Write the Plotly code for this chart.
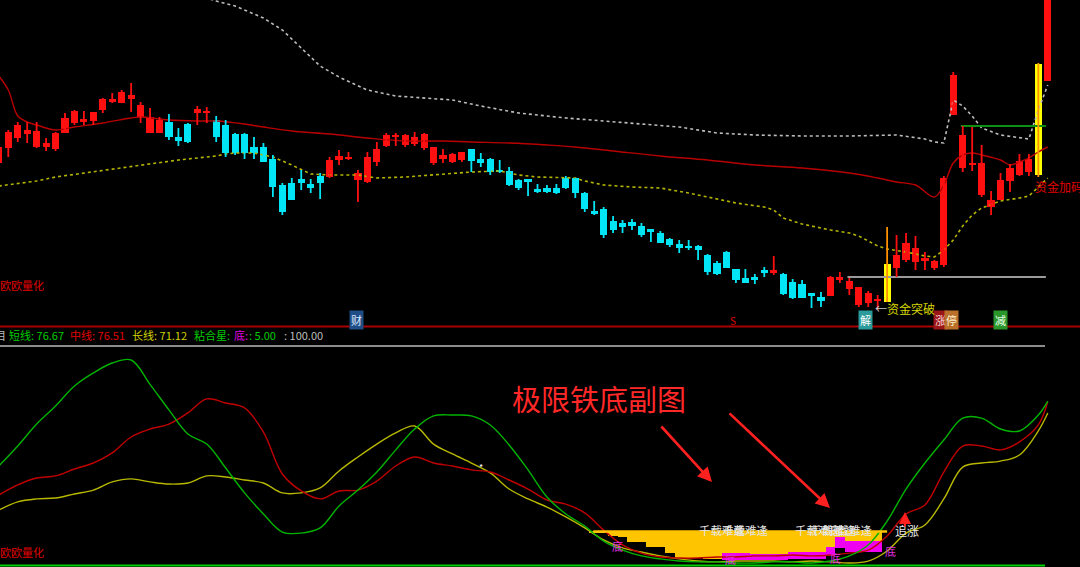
import plotly.graph_objects as go

# ---------------- data ----------------
candle_color = list(
    "RRRRRRRRRRRRRRRRRR"                  # 0-17
    "CCC"                                 # 18-20
    "RR"                                  # 21-22
    "CCCCCCCCCCCC"                        # 23-34
    "RRRRRRRRRRRRRRR"                     # 35-49
    "CCCCCCCCCC" "CCCCCCCCCC" "CCCCCCCCCC" "CC"   # 50-81
    "R"                                   # 82
    "CCCCC"                               # 83-87
    "RRRRRR"                              # 88-93
    "Y"                                   # 94
    "RRRRRRRRRRRRRRR"                     # 95-109
    "Y"                                   # 110
    "R"                                   # 111
)
opens = [11.85, 12.6, 13.1, 13.3, 12.65, 12.65, 12.55, 13.35, 13.85, 13.9,
         13.95, 14.5, 14.9, 14.85, 15.05, 14.15, 13.35, 13.35, 13.9, 13.15,
         13.8, 14.35, 14.35, 14.0, 13.75, 13.3, 13.3, 12.65, 12.65, 12.05,
         10.75, 10.85, 11.05, 10.8, 11.2, 11.15, 12.0, 12.05, 11.0, 10.9,
         11.9, 12.7, 13.15, 12.75, 12.8, 12.6, 11.85, 12.05, 11.9, 12.0,
         12.55, 12.05, 12.05, 11.5, 11.45, 11.0, 11.05, 10.55, 10.6, 10.6,
         11.1, 11.1, 10.35, 9.45, 9.55, 8.95, 8.85, 8.9, 8.7, 8.55,
         8.35, 8.05, 7.8, 7.65, 7.7, 7.25, 6.85, 7.4, 6.55, 6.1,
         6.15, 6.5, 6.35, 6.3, 5.9, 5.8, 5.35, 5.15, 5.2, 6.0,
         5.55, 4.75, 4.85, 4.95, 4.9, 6.6, 7.0, 6.9, 6.95, 6.6,
         6.75, 14.25, 11.6, 11.75, 10.25, 9.65, 10.0, 10.95, 11.25, 11.4,
         11.25, 15.95]
highs = [12.75, 13.5, 13.9, 13.9, 13.9, 13.1, 13.4, 14.35, 14.5, 14.45,
         14.4, 15.1, 15.35, 15.5, 15.85, 14.9, 14.6, 14.15, 14.3, 13.6,
         13.85, 14.7, 14.65, 14.2, 14.0, 13.35, 13.35, 13.15, 12.85, 12.25,
         10.85, 11.1, 11.5, 11.05, 11.35, 12.15, 12.5, 12.4, 11.5, 12.4,
         12.9, 13.35, 13.35, 13.3, 13.4, 13.35, 12.65, 12.55, 12.35, 12.4,
         12.55, 12.35, 12.1, 12.0, 11.65, 11.05, 11.05, 10.8, 10.75, 10.8,
         11.2, 11.1, 10.4, 9.95, 9.65, 9.2, 9.0, 9.05, 8.85, 8.55,
         8.45, 8.1, 8.0, 8.0, 7.75, 7.3, 6.95, 7.45, 6.55, 6.55,
         6.3, 6.65, 7.2, 6.35, 6.05, 6.0, 5.35, 5.4, 6.2, 6.4,
         6.1, 5.65, 5.45, 5.25, 8.65, 8.25, 8.35, 8.2, 7.4, 7.0,
         11.2, 16.4, 13.7, 13.65, 12.75, 10.45, 11.35, 11.8, 12.3, 12.3,
         16.85, 21.5]
lows = [11.75, 12.15, 12.9, 12.85, 12.6, 12.45, 12.45, 13.35, 13.75, 13.75,
        13.75, 14.35, 14.85, 14.85, 14.4, 13.85, 13.35, 13.35, 13.0, 12.7,
        12.85, 13.75, 13.85, 12.9, 12.15, 12.25, 12.05, 12.05, 11.9, 10.15,
        9.25, 10.0, 10.5, 10.35, 10.05, 11.1, 11.75, 12.0, 9.9, 10.85,
        11.7, 12.65, 12.7, 12.65, 12.7, 12.5, 11.75, 11.85, 11.85, 11.9,
        11.4, 11.65, 11.25, 11.35, 10.7, 10.5, 10.2, 10.35, 10.35, 10.3,
        10.55, 10.1, 9.4, 9.25, 8.1, 8.35, 8.35, 8.5, 8.15, 7.9,
        7.85, 7.65, 7.35, 7.5, 7.0, 6.25, 6.25, 6.6, 5.85, 5.85,
        5.8, 6.15, 6.25, 5.25, 5.05, 5.1, 4.6, 4.65, 5.2, 5.85,
        5.25, 4.65, 4.65, 4.5, 4.9, 6.15, 6.9, 6.5, 6.5, 6.5,
        6.65, 14.25, 11.4, 11.45, 10.15, 9.25, 10.0, 10.4, 11.2, 11.2,
        11.15, 15.95]
closes = [12.65, 13.4, 13.75, 13.5, 13.45, 12.85, 13.35, 14.1, 14.45, 14.05,
          14.4, 15.05, 15.05, 15.4, 15.25, 14.75, 14.15, 14.0, 13.15, 12.95,
          12.9, 14.55, 14.45, 13.15, 12.35, 12.35, 12.35, 12.35, 11.9, 10.65,
          9.4, 10.0, 10.85, 10.6, 10.85, 12.0, 12.2, 12.15, 11.35, 12.15,
          12.55, 13.25, 13.25, 13.25, 13.15, 13.3, 12.65, 12.25, 12.3, 12.4,
          11.95, 11.85, 11.4, 11.4, 10.75, 10.6, 10.9, 10.4, 10.4, 10.35,
          10.6, 10.35, 9.55, 9.3, 8.25, 8.5, 8.65, 8.7, 8.25, 8.4,
          7.85, 7.75, 7.6, 7.6, 7.5, 6.4, 6.3, 6.6, 6.0, 5.85,
          6.0, 6.35, 6.5, 5.3, 5.1, 5.1, 5.2, 4.95, 6.15, 6.15,
          5.95, 5.65, 5.35, 5.05, 6.8, 7.25, 7.85, 7.6, 7.1, 6.95,
          11.1, 16.25, 13.25, 11.85, 11.85, 10.0, 11.0, 11.6, 11.95, 12.05,
          16.8, 21.5]

# moving average (dark red) and band lines, sampled at bar indices
ma_idx = [0, 1, 2, 3, 4, 6, 8, 11, 14, 15, 18, 21, 23, 26, 28, 31, 35, 39, 43, 47,
          50, 54, 58, 61, 65, 70, 75, 80, 85, 90, 93, 95, 97, 99, 100, 101, 102, 103, 104, 106,
          107, 108, 109, 110, 111]
ma_val = [16.2, 15.5, 14.2, 13.9, 13.75, 13.5, 13.65, 13.85, 14.1, 14.15, 14.0, 13.95, 13.95, 13.8, 13.65, 13.45, 13.3, 13.1, 12.95, 12.95,
          12.9, 12.85, 12.75, 12.65, 12.45, 12.2, 12.0, 11.75, 11.6, 11.35, 11.1, 10.9, 10.75, 10.15, 10.75, 11.85, 12.25, 12.35, 12.25, 12.0,
          11.75, 11.9, 12.1, 12.4, 12.65]
lb_idx = [0, 4, 6, 9, 12, 16, 19, 23, 24, 25, 27, 29, 31, 33, 35, 38, 40, 43, 47, 50,
          53, 55, 57, 61, 62, 64, 67, 70, 73, 76, 78, 81, 82, 83, 85, 88, 90, 91, 92, 93,
          94, 96, 98, 99, 100, 101, 102, 103, 104, 106, 108, 109, 110, 111]
lb_val = [10.7, 10.95, 11.15, 11.35, 11.55, 11.8, 12.0, 12.2, 12.3, 12.35, 12.35, 12.15, 11.75, 11.3, 11.25, 11.25, 11.1, 11.15, 11.3, 11.4,
          11.45, 11.25, 11.15, 11.1, 10.95, 10.75, 10.65, 10.6, 10.35, 10.05, 9.85, 9.65, 9.5, 9.1, 8.8, 8.5, 8.35, 8.2, 7.95, 7.7,
          7.55, 7.4, 7.2, 7.15, 7.5, 8.0, 8.7, 9.25, 9.6, 9.95, 10.1, 10.2, 10.65, 11.1]
ub_idx = [20, 22, 23, 25, 28, 30, 32, 34, 36, 39, 42, 48, 51, 55, 60, 67, 72, 76, 80, 85,
          90, 95, 98, 99, 100, 101, 102, 103, 104, 106, 108, 109, 110, 111]
ub_val = [20.5, 20.1, 19.95, 19.7, 19.1, 18.5, 17.6, 16.7, 16.15, 15.5, 15.2, 15.0, 14.7, 14.35, 14.1, 13.85, 13.65, 13.35, 13.25, 13.2,
          13.2, 13.25, 13.05, 12.9, 12.85, 15.0, 14.7, 14.2, 13.6, 13.25, 13.1, 13.05, 14.5, 15.75]

# horizontal reference levels (price, start index, end index)
support_level = [6.15, 89.8, 110.8]
breakout_level = [13.7, 101.8, 110.8]

# lower pane oscillators (0-100)
osc_idx = list(range(0, 111, 2)) + [111]
short_line = [46.5, 55.8, 66.0, 74.4, 83.7, 89.8, 94.4, 95.8, 84.5, 72.6,
              61.4, 56.7, 45.6, 34.0, 24.2, 15.8, 15.3, 17.7, 27.9, 35.3,
              43.7, 54.0, 63.7, 69.8, 70.2, 69.8, 65.6, 56.3, 44.7, 32.1,
              24.2, 18.6, 11.6, 7.4, 4.7, 3.3, 2.3, 1.9, 1.9, 1.4,
              1.4, 1.9, 1.9, 1.4, 2.3, 4.7, 9.8, 20.9, 35.8, 47.9,
              58.6, 68.8, 68.8, 63.7, 62.8, 70.2, 76.67]
mid_line = [33.0, 37.7, 40.9, 41.9, 45.1, 47.9, 52.6, 60.0, 63.7, 66.0,
            71.2, 77.7, 75.8, 73.5, 62.3, 42.8, 34.9, 31.2, 34.9, 35.3,
            39.5, 46.5, 50.7, 47.9, 46.5, 44.7, 43.7, 40.0, 35.8, 30.7,
            28.8, 24.7, 16.7, 9.8, 6.0, 4.2, 3.7, 3.7, 4.2, 4.2,
            4.7, 4.7, 5.1, 4.7, 5.1, 6.0, 7.4, 14.0, 24.2, 28.4,
            43.7, 55.8, 55.8, 54.0, 57.7, 65.6, 76.51]
long_line = [26.0, 29.8, 31.2, 31.6, 33.5, 35.3, 39.1, 40.5, 39.1, 38.1,
             38.6, 41.9, 41.4, 40.0, 38.6, 34.0, 34.0, 36.3, 44.2, 50.7,
             56.7, 61.9, 65.1, 56.7, 52.1, 47.9, 43.3, 35.8, 31.2, 27.4,
             22.8, 17.7, 12.1, 8.4, 6.5, 4.7, 3.3, 2.3, 1.9, 2.3,
             2.3, 2.3, 1.9, 2.3, 1.9, 1.4, 2.3, 7.0, 15.3, 19.1,
             31.2, 46.0, 47.9, 48.8, 51.6, 62.8, 71.12]

# "bottom" zone sticks
zone_idx = list(range(63, 94))
zone_top = 16.3
zone_bottom = [15.3, 15.3, 14.0, 13.5, 11.2, 11.2, 8.8, 8.8, 6.0, 3.7,
               3.7, 3.7, 3.3, 3.3, 6.0, 6.0, 6.0, 5.6, 5.6, 5.6,
               5.6, 6.5, 6.5, 6.5, 6.5, 8.8, 13.5, 11.6, 11.6, 11.6, 11.6]
zone_line = [16.0, 62.9, 94.0]
mag_idx = list(range(77, 94))
mag_top = [6.0, 6.0, 6.0, 5.6, 5.6, 5.6, 5.6, 6.5, 6.5, 6.5, 6.5, 8.8, 13.5, 11.6, 11.6, 11.6, 11.6]
mag_bottom = [2.8, 2.8, 2.8, 2.8, 2.8, 2.8, 2.8, 3.3, 3.3, 3.3, 3.3, 4.7, 8.4, 6.5, 6.5, 6.5, 6.5]

info_labels = [("目", "#bdbdbd"), ("短线: 76.67", "#00cc00"), ("中线: 76.51", "#e00000"),
               ("长线: 71.12", "#d0d000"), ("粘合星:", "#00cc00"), ("底:", "#e000e0"),
               (": 5.00", "#00cc00"), (": 100.00", "#bdbdbd")]

# ---------------- figure ----------------
W, H = 1080, 567
FONT = "Noto Sans CJK SC, sans-serif"
N = len(opens)


def px(x):
    return x / W


def py(y):
    return 1 - y / H


fig = go.Figure()

# top-pane lines
fig.add_trace(go.Scatter(x=ub_idx, y=ub_val, mode="lines",
                         line=dict(color="#bcbcbc", width=1.6, dash="dot"), xaxis="x", yaxis="y"))
fig.add_trace(go.Scatter(x=lb_idx, y=lb_val, mode="lines",
                         line=dict(color="#b4b400", width=1.6, dash="dot"), xaxis="x", yaxis="y"))
fig.add_trace(go.Scatter(x=ma_idx, y=ma_val, mode="lines", line_shape="spline",
                         line=dict(color="#b80000", width=1.4), xaxis="x", yaxis="y"))
fig.add_trace(go.Scatter(x=support_level[1:], y=[support_level[0]] * 2, mode="lines",
                         line=dict(color="#9a9a9a", width=2), xaxis="x", yaxis="y"))
fig.add_trace(go.Scatter(x=breakout_level[1:], y=[breakout_level[0]] * 2, mode="lines",
                         line=dict(color="#109010", width=2), xaxis="x", yaxis="y"))

palette = {"R": ("#ff1010", "#ff1010"), "C": ("#00e6f6", "#00e6f6"), "Y": ("#ffff00", "#ff9000")}
for key, (body_col, wick_col) in palette.items():
    ii = [i for i in range(N) if candle_color[i] == key]
    wx, wy = [], []
    for i in ii:
        wx += [i, i, None]
        wy += [lows[i], highs[i], None]
    fig.add_trace(go.Scatter(x=wx, y=wy, mode="lines", line=dict(color=wick_col, width=1.8),
                             xaxis="x", yaxis="y"))
    fig.add_trace(go.Bar(x=ii, y=[max(abs(closes[i] - opens[i]), 0.12) for i in ii],
                         base=[min(opens[i], closes[i]) for i in ii], width=0.76,
                         marker=dict(color=body_col, line=dict(width=0)), xaxis="x", yaxis="y"))

# bottom-pane lines
fig.add_trace(go.Scatter(x=osc_idx, y=long_line, mode="lines", line_shape="spline",
                         line=dict(color="#b8b800", width=1.4), xaxis="x2", yaxis="y2"))
fig.add_trace(go.Scatter(x=osc_idx, y=mid_line, mode="lines", line_shape="spline",
                         line=dict(color="#c00000", width=1.4), xaxis="x2", yaxis="y2"))
fig.add_trace(go.Scatter(x=osc_idx, y=short_line, mode="lines", line_shape="spline",
                         line=dict(color="#00b400", width=1.4), xaxis="x2", yaxis="y2"))

# bottom zone sticks
fig.add_trace(go.Bar(x=zone_idx, y=[zone_top - b for b in zone_bottom], base=zone_bottom, width=1.0,
                     marker=dict(color="#ffc400", line=dict(width=0)), xaxis="x2", yaxis="y2"))
fig.add_trace(go.Bar(x=mag_idx, y=[t - b for t, b in zip(mag_top, mag_bottom)], base=mag_bottom, width=1.0,
                     marker=dict(color="#f000f0", line=dict(width=0)), xaxis="x2", yaxis="y2"))
fig.add_trace(go.Scatter(x=zone_line[1:], y=[zone_line[0]] * 2, mode="lines",
                         line=dict(color="#ffc400", width=2.5), xaxis="x2", yaxis="y2"))

ann = []


def text(x, y, s, color, size=11, anchor="left", bg=None, family=FONT):
    d = dict(x=px(x), y=py(y), xref="paper", yref="paper", text=s, showarrow=False,
             xanchor=anchor, yanchor="middle", font=dict(family=family, size=size, color=color))
    if bg:
        d.update(bgcolor=bg, borderpad=1)
    ann.append(d)


text(-2, 285, "欧欧量化", "#e00000", 11)
text(-2, 552, "欧欧量化", "#e00000", 11)
info_x = [-7, 7, 68, 130, 192, 232, 247, 282]
for (s, c), x in zip(info_labels, info_x):
    text(x, 335, s, c, 11)
text(510, 398, "极限铁底副图", "#ff2828", 29)

text(356, 320, "财", "#dfe8ff", 11, "center", "#1f4e86")
text(733, 320, "S", "#e00000", 10, "center")
text(865, 320, "解", "#ffffff", 11, "center", "#2a9a9a")
text(940, 320, "涨", "#ffd8d8", 11, "center", "#9a1515")
text(951, 320, "停", "#fff0d0", 11, "center", "#b8702a")
text(1000, 320, "减", "#e8ffe8", 11, "center", "#2a962a")
text(873, 308, "<span style='color:#c8c8c8'>←</span>资金突破", "#d8d800", 12)
text(1033, 186, "资金加码", "#e00000", 12)

for x in (697, 720, 793, 808, 824):
    text(x, 530, "千载难逢", "#e6e6e6", 11.5)
text(893, 530, "追涨", "#e6e6e6", 12)
for x, y in ((617, 546), (730, 559), (835, 558), (890, 551)):
    text(x, y, "底", "#e030e0", 11, "center")
text(481, 467, "*", "#ffffff", 9, "center")

for hx, hy, ax, ay, w in ((712, 482, -52, -57, 2.6), (830, 508, -102, -96, 2.6), (905, 512, 0, 16, 2.2)):
    ann.append(dict(x=px(hx), y=py(hy), xref="paper", yref="paper", text="", showarrow=True,
                    ax=ax, ay=ay, arrowhead=2, arrowsize=1.1, arrowwidth=w, arrowcolor="#ff2020"))

shapes = [
    dict(type="line", xref="paper", yref="paper", x0=0, x1=1, y0=py(326.5), y1=py(326.5),
         line=dict(color="#a80000", width=2)),
    dict(type="line", xref="paper", yref="paper", x0=0, x1=px(1045), y0=py(346), y1=py(346),
         line=dict(color="#8c8c8c", width=2)),
    dict(type="line", xref="paper", yref="paper", x0=0, x1=px(1045), y0=py(565.5), y1=py(565.5),
         line=dict(color="#00d000", width=2)),
]

xr = [0.1217, 114.41]
fig.update_layout(
    width=W, height=H, margin=dict(l=0, r=0, t=0, b=0),
    paper_bgcolor="#000000", plot_bgcolor="#000000",
    showlegend=False, barmode="overlay", bargap=0,
    xaxis=dict(domain=[0, 1], range=xr, visible=False, anchor="y"),
    xaxis2=dict(domain=[0, 1], range=xr, visible=False, anchor="y2", matches="x"),
    yaxis=dict(domain=[0.4268, 1], range=[3.75, 20], visible=False),
    yaxis2=dict(domain=[0.00176, 0.381], range=[0, 100], visible=False),
    annotations=ann, shapes=shapes,
    font=dict(family=FONT),
)

fig.write_html("out.html", config={"displayModeBar": False},
               post_script="document.body.style.margin='0';document.body.style.background='#000';"
                           "document.body.style.overflow='hidden';")
